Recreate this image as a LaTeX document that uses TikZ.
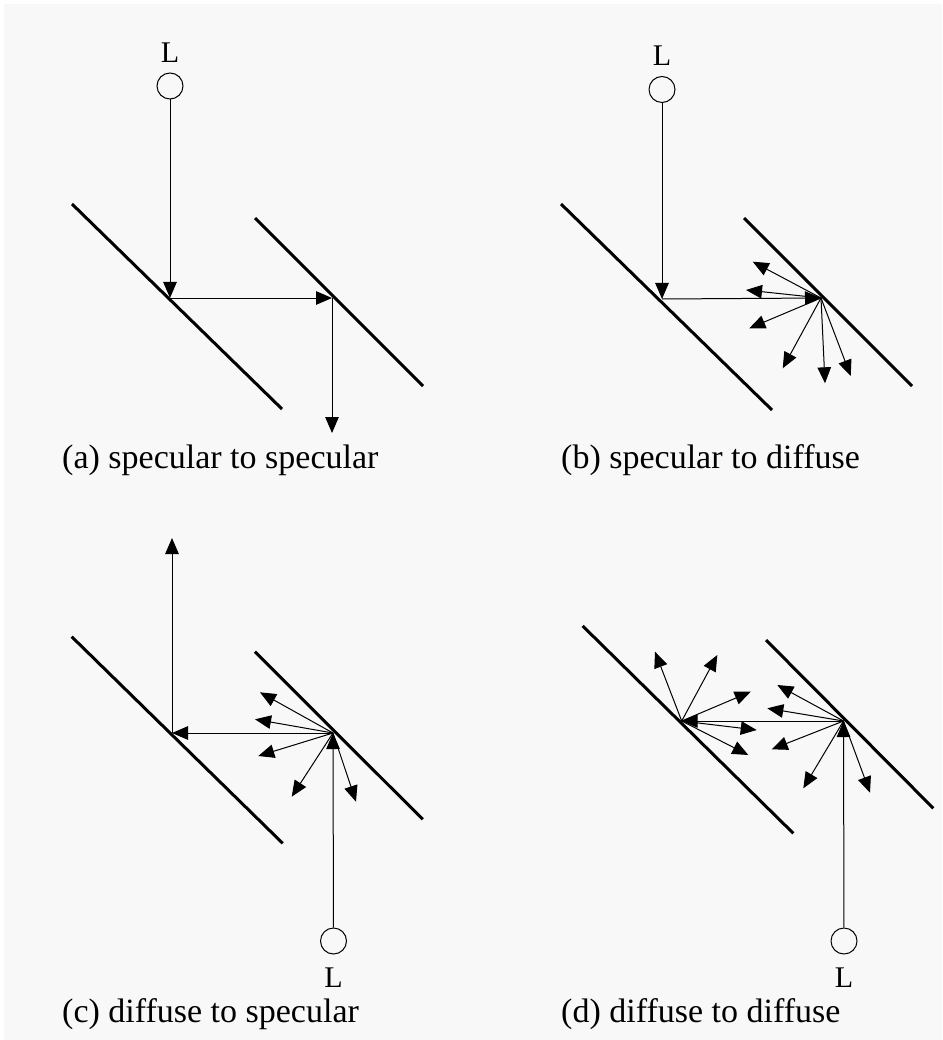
\documentclass[tikz,border=0pt]{standalone}
\usepackage{fontspec}
\setmainfont{Liberation Serif}
\usetikzlibrary{arrows.meta}
\definecolor{bg}{HTML}{F8F8F8}
\begin{document}
\begin{tikzpicture}[x=1pt,y=-1pt,
  mirror/.style={line width=3pt},
  ray/.style={line width=1pt,-{Triangle[length=16pt,width=13.5pt]}},
  lamp/.style={circle,draw,line width=1pt,minimum size=26pt,inner sep=0pt},
  lbl/.style={font=\fontsize{30}{34}\selectfont,inner sep=0pt,anchor=base},
  captxt/.style={font=\fontsize{34}{40}\selectfont,inner sep=0pt,anchor=base west}]
\useasboundingbox (0,0) rectangle (942,1040);
\fill[white] (0,0) rectangle (942,1040);
\fill[bg] (4,4) rectangle (942,1040);

% ---------- (a) ----------
\node[lamp] (La) at (170,86) {};
\node[lbl] (LaT) at (170,63) {L};
\draw[mirror] (72,204) -- (282,409);
\draw[mirror] (255,218) -- (423,386);
\coordinate (ha1) at (170,298);
\coordinate (ha2) at (332,298);
\coordinate (ta) at (332,433);
\draw[ray] (La) -- (ha1);
\draw[ray] (ha1) -- (ha2);
\draw[ray] (ha2) -- (ta);
\node[captxt] (capa) at (62,468) {(a) specular to specular};

% ---------- (b) ----------
\node[lamp] (Lb) at (662,89.5) {};
\node[lbl] (LbT) at (662,66) {L};
\draw[mirror] (561,204) -- (772,410);
\draw[mirror] (744,218) -- (912,386);
\coordinate (hb1) at (662,299);
\coordinate (hb2) at (821,298);
\coordinate (tb1) at (752.7,261.7);
\coordinate (tb2) at (746,290);
\coordinate (tb3) at (749.3,328.3);
\coordinate (tb4) at (782.7,368.3);
\coordinate (tb5) at (825,383.3);
\coordinate (tb6) at (850.7,376);
\draw[ray] (Lb) -- (hb1);
\draw[ray] (hb1) -- (hb2);
\draw[ray] (hb2) -- (tb1);
\draw[ray] (hb2) -- (tb2);
\draw[ray] (hb2) -- (tb3);
\draw[ray] (hb2) -- (tb4);
\draw[ray] (hb2) -- (tb5);
\draw[ray] (hb2) -- (tb6);
\node[captxt] (capb) at (561,468) {(b) specular to diffuse};

% ---------- (c) ----------
\draw[mirror] (71.7,636.7) -- (282.7,843.3);
\draw[mirror] (255,651.7) -- (422.7,819.3);
\coordinate (hc1) at (172,733);
\coordinate (hc2) at (333,733);
\coordinate (tc) at (172,538);
\coordinate (tc1) at (260,692.3);
\coordinate (tc2) at (255,719.3);
\coordinate (tc3) at (258.3,756);
\coordinate (tc4) at (291.7,796.7);
\coordinate (tc5) at (356,801.7);
\node[lamp] (Lc) at (333.5,941) {};
\node[lbl] (LcT) at (333.5,987) {L};
\draw[ray] (Lc) -- (hc2);
\draw[ray] (hc2) -- (hc1);
\draw[ray] (hc1) -- (tc);
\draw[ray] (hc2) -- (tc1);
\draw[ray] (hc2) -- (tc2);
\draw[ray] (hc2) -- (tc3);
\draw[ray] (hc2) -- (tc4);
\draw[ray] (hc2) -- (tc5);
\node[captxt] (capc) at (62,1022) {(c) diffuse to specular};

% ---------- (d) ----------
\draw[mirror] (582.7,626) -- (793.3,833.3);
\draw[mirror] (766,640) -- (933.3,808.3);
\coordinate (hd1) at (681.7,721);
\coordinate (hd2) at (843.5,721);
\coordinate (td1) at (655,651.7);
\coordinate (td2) at (717.3,655);
\coordinate (td3) at (750.7,691.7);
\coordinate (td4) at (756.7,730);
\coordinate (td5) at (748.3,755);
\coordinate (te1) at (777.3,685);
\coordinate (te2) at (767.3,708.3);
\coordinate (te3) at (771.7,749.3);
\coordinate (te4) at (803.3,788.3);
\coordinate (te5) at (870,792.7);
\node[lamp] (Ld) at (844,941) {};
\node[lbl] (LdT) at (844,987) {L};
\draw[ray] (Ld) -- (hd2);
\draw[ray] (hd2) -- (hd1);
\draw[ray] (hd1) -- (td1);
\draw[ray] (hd1) -- (td2);
\draw[ray] (hd1) -- (td3);
\draw[ray] (hd1) -- (td4);
\draw[ray] (hd1) -- (td5);
\draw[ray] (hd2) -- (te1);
\draw[ray] (hd2) -- (te2);
\draw[ray] (hd2) -- (te3);
\draw[ray] (hd2) -- (te4);
\draw[ray] (hd2) -- (te5);
\node[captxt] (capd) at (561,1022) {(d) diffuse to diffuse};
\end{tikzpicture}
\end{document}
